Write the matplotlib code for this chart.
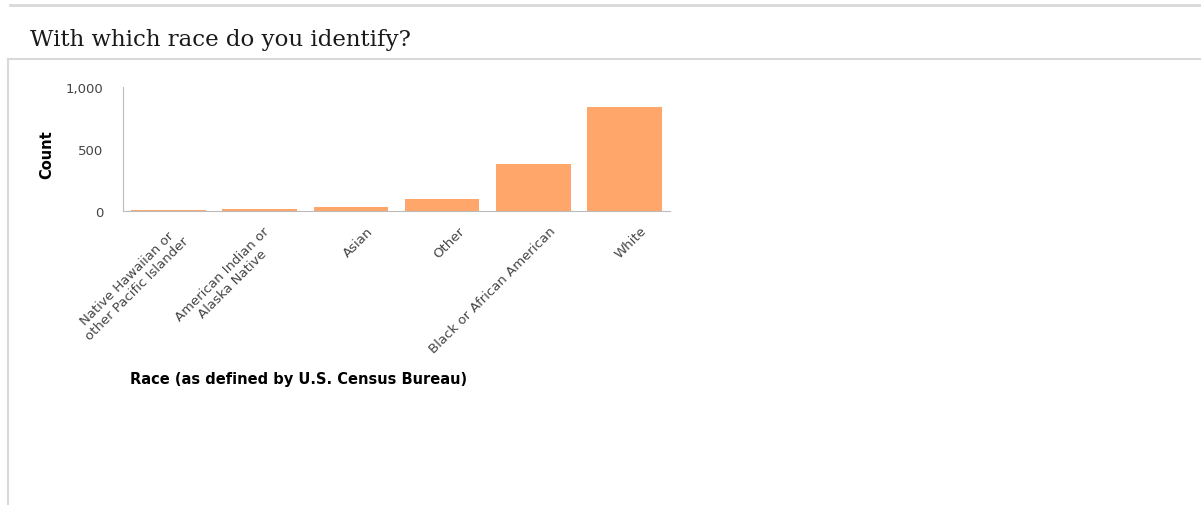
import matplotlib
matplotlib.use('Agg')
import matplotlib.pyplot as plt
import matplotlib.transforms as mtransforms
from matplotlib.lines import Line2D

categories = ['Native Hawaiian or\nother Pacific Islander', 'American Indian or\nAlaska Native',
              'Asian', 'Other', 'Black or African American', 'White']
counts = [8, 16, 32, 97, 379, 839]
yticks = [0, 500, 1000]
ytick_labels = ['0', '500', '1,000']

W, H = 1201, 506
fig = plt.figure(figsize=(W / 100, H / 100), dpi=100)

# page chrome: top rule, box border
fig.add_artist(Line2D([10 / W, 1], [1 - 6 / H, 1 - 6 / H], color='#d9d9d9', lw=2))
fig.add_artist(Line2D([8 / W, 1], [1 - 60 / H, 1 - 60 / H], color='#d9d9d9', lw=1.5))
fig.add_artist(Line2D([8 / W, 8 / W], [0, 1 - 60 / H], color='#d9d9d9', lw=1.5))
fig.text(30 / W, 1 - 40 / H, 'With which race do you identify?', family='DejaVu Serif',
         fontsize=16.5, color='#1a1a1a', va='center', ha='left')

ax = fig.add_axes([123 / W, 1 - 212 / H, 547 / W, 124 / H])
x = range(len(categories))
ax.bar(x, counts, width=0.82, color='#FFA76A')
ax.set_xlim(-0.5, len(categories) - 0.5)
ax.set_ylim(0, 1000)
ax.set_yticks(yticks)
ax.set_yticklabels(ytick_labels)
ax.tick_params(axis='y', length=0, labelsize=9.5, labelcolor='#444444', pad=14)
ax.tick_params(axis='x', length=0)
ax.set_xticks(list(x))
ax.set_xticklabels(categories, rotation=45, ha='right', va='top', rotation_mode='anchor',
                   fontsize=9.5, color='#444444', linespacing=1.15, multialignment='center')
# two-line labels sit further left, like the original export
for lbl in ax.get_xticklabels():
    dx = 16 if '\n' not in lbl.get_text() else 3
    offset = mtransforms.ScaledTranslation(dx / 100, -8 / 100, fig.dpi_scale_trans)
    lbl.set_transform(lbl.get_transform() + offset)
for side in ['top', 'right']:
    ax.spines[side].set_visible(False)
ax.spines['left'].set_color('#bbbbbb')
ax.spines['bottom'].set_color('#bbbbbb')

fig.text(47 / W, 1 - 155 / H, 'Count', rotation=90, fontsize=10.5, fontweight='bold',
         va='center', ha='center')
fig.text(130 / W, 1 - 380 / H, 'Race (as defined by U.S. Census Bureau)', fontsize=10.5,
         fontweight='bold', va='center', ha='left')

fig.savefig('out.png', dpi=100)
